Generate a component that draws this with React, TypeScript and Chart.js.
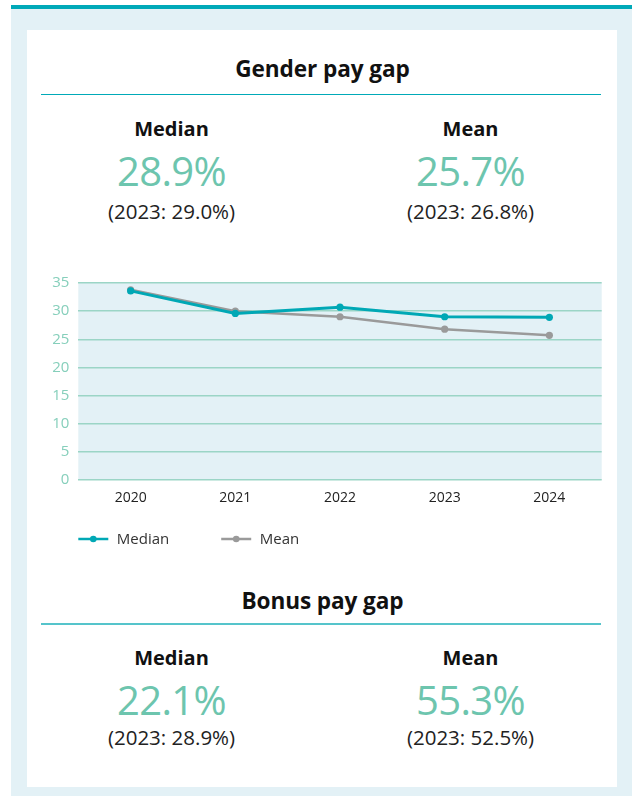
import React, { useEffect, useRef } from "react";
import { Chart, registerables } from "chart.js";

Chart.register(...registerables);

const years = ["2020", "2021", "2022", "2023", "2024"];
const medianSeries = [33.6, 29.6, 30.7, 29.0, 28.9];
const meanSeries = [33.8, 30.0, 29.0, 26.8, 25.7];
const seriesLabels = ["Median", "Mean"];
const yTicksMax = 35;
const yTicksStep = 5;

const genderValues = { median: "28.9%", mean: "25.7%", medianPrev: "(2023: 29.0%)", meanPrev: "(2023: 26.8%)" };
const bonusValues = { median: "22.1%", mean: "55.3%", medianPrev: "(2023: 28.9%)", meanPrev: "(2023: 52.5%)" };

const FONT = "'Open Sans', 'Noto Sans', sans-serif";
const TEAL = "#00a8b5";
const GREY = "#9a9a9a";
const GREEN = "#6dc5ae";

const plotBg = {
  id: "plotBg",
  beforeDraw(chart: any) {
    const { ctx, chartArea } = chart;
    ctx.save();
    ctx.fillStyle = "#e3f1f6";
    ctx.fillRect(chartArea.left, chartArea.top, chartArea.right - chartArea.left, chartArea.bottom - chartArea.top);
    ctx.restore();
  },
};

const lineLegend = {
  id: "lineLegend",
  afterDraw(chart: any) {
    const { ctx, chartArea } = chart;
    const y = 274;
    let x = chartArea.left;
    ctx.save();
    ctx.font = `15px ${FONT}`;
    ctx.textBaseline = "middle";
    chart.data.datasets.forEach((ds: any) => {
      ctx.strokeStyle = ds.borderColor;
      ctx.lineWidth = 2.5;
      ctx.beginPath();
      ctx.moveTo(x, y);
      ctx.lineTo(x + 30, y);
      ctx.stroke();
      ctx.fillStyle = ds.borderColor;
      ctx.beginPath();
      ctx.arc(x + 15, y, 3.3, 0, Math.PI * 2);
      ctx.fill();
      ctx.fillStyle = "#333";
      const tx = x + 38.5;
      ctx.fillText(ds.label, tx, y + 0.5);
      x = tx + ctx.measureText(ds.label).width + 52;
    });
    ctx.restore();
  },
};

function LineChart() {
  const ref = useRef<HTMLCanvasElement>(null);
  useEffect(() => {
    if (!ref.current) return;
    const chart = new Chart(ref.current, {
      type: "line",
      data: {
        labels: years,
        datasets: [
          {
            label: seriesLabels[0],
            data: medianSeries,
            borderColor: TEAL,
            backgroundColor: TEAL,
            borderWidth: 3,
            pointRadius: 3.6,
            pointBorderWidth: 0,
            pointBackgroundColor: TEAL,
            tension: 0,
            order: 0,
          },
          {
            label: seriesLabels[1],
            data: meanSeries,
            borderColor: GREY,
            backgroundColor: GREY,
            borderWidth: 2.5,
            pointRadius: 3.6,
            pointBorderWidth: 0,
            pointBackgroundColor: GREY,
            tension: 0,
            order: 1,
          },
        ],
      },
      options: {
        animation: false,
        responsive: false,
        maintainAspectRatio: false,
        layout: { padding: { left: 0, right: 15.3, top: 0, bottom: 47 } },
        plugins: { legend: { display: false }, tooltip: { enabled: false } },
        scales: {
          x: {
            offset: true,
            grid: { display: false, drawTicks: false },
            border: { display: false },
            ticks: { color: "#222", font: { family: FONT, size: 14 }, padding: 10 },
            afterFit: (s: any) => {
              s.height = 30;
            },
          },
          y: {
            min: 0,
            max: yTicksMax,
            ticks: { stepSize: yTicksStep, color: "#86cfbb", font: { family: FONT, size: 15 }, padding: 9 },
            grid: { color: "#9bd5c6", lineWidth: 1.5, drawTicks: false },
            border: { display: false },
            afterFit: (s: any) => {
              s.width = 52.3;
            },
          },
        },
      },
      plugins: [plotBg, lineLegend],
    });
    return () => chart.destroy();
  }, []);
  return (
    <canvas
      ref={ref}
      width={591}
      height={292}
      style={{ position: "absolute", left: 26, top: 265, width: 591, height: 292 }}
    />
  );
}

function Txt(props: { text: string; cx: number; top: number; size: number; weight?: number; color?: string; ls?: number }) {
  const w = 300;
  return (
    <div
      style={{
        position: "absolute",
        left: props.cx - w / 2,
        width: w,
        top: props.top,
        textAlign: "center",
        fontFamily: FONT,
        fontSize: props.size,
        fontWeight: props.weight || 400,
        lineHeight: 1,
        color: props.color || "#111",
        letterSpacing: props.ls || 0,
        whiteSpace: "nowrap",
      }}
    >
      {props.text}
    </div>
  );
}

function Section(props: { title: string; titleTop: number; lineTop: number; lineColor: string; headTop: number; valTop: number; prevTop: number; vals: any }) {
  const { vals } = props;
  return (
    <>
      <Txt text={props.title} cx={322.5} top={props.titleTop} size={22.6} weight={700} ls={-0.1} />
      <div style={{ position: "absolute", left: 41, width: 560, top: props.lineTop, height: 1.6, background: props.lineColor }} />
      <Txt text="Median" cx={171.5} top={props.headTop} size={20} weight={700} />
      <Txt text="Mean" cx={470.5} top={props.headTop} size={20} weight={700} />
      <Txt text={vals.median} cx={171.5} top={props.valTop} size={40} weight={500} color={GREEN} ls={-0.6} />
      <Txt text={vals.mean} cx={470.5} top={props.valTop} size={40} weight={500} color={GREEN} ls={-0.6} />
      <Txt text={vals.medianPrev} cx={171.5} top={props.prevTop} size={20.5} color="#222" ls={0} />
      <Txt text={vals.meanPrev} cx={470.5} top={props.prevTop} size={20.5} color="#222" ls={0} />
    </>
  );
}

export default function App() {
  return (
    <div style={{ position: "fixed", left: 0, top: 0, width: 632, height: 796, background: "#fff", overflow: "hidden" }}>
      <div style={{ position: "absolute", left: 11, top: 5, right: 0, bottom: 0, background: "#e3f1f6" }} />
      <div style={{ position: "absolute", left: 11, top: 5, right: 0, height: 4.3, background: "#00a9b8" }} />
      <div style={{ position: "absolute", left: 27, top: 30, width: 590, height: 757, background: "#fff" }} />
      <Section
        title="Gender pay gap"
        titleTop={58.3}
        lineTop={93.5}
        lineColor="#00aab8"
        headTop={118.6}
        valTop={150.5}
        prevTop={201.1}
        vals={genderValues}
      />
      <LineChart />
      <Section
        title="Bonus pay gap"
        titleTop={589.6}
        lineTop={623}
        lineColor="#55c4cb"
        headTop={648.2}
        valTop={680.1}
        prevTop={726.9}
        vals={bonusValues}
      />
    </div>
  );
}
